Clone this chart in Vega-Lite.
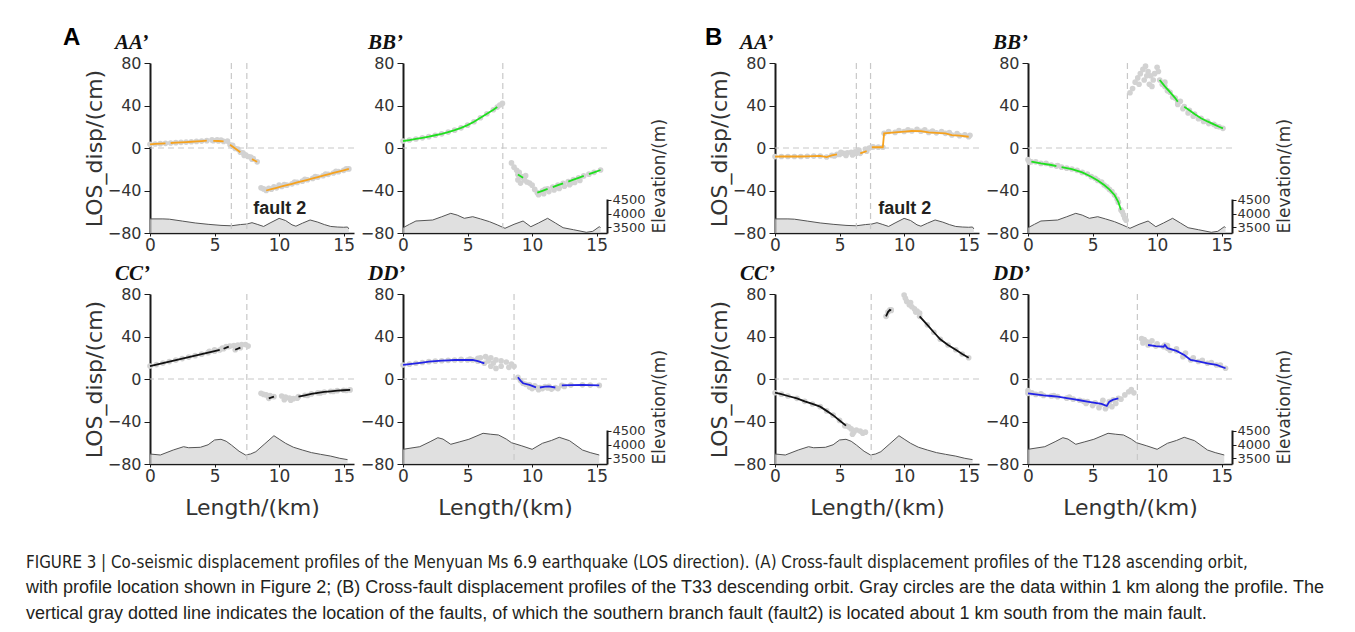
{
"$schema":"https://vega.github.io/schema/vega-lite/v6.json",
"autosize":{"type":"none"},
"padding":{"left":63,"top":63,"right":1292,"bottom":569},
"background":"#ffffff",
"title":{"text":"FIGURE 3 | Co-seismic displacement profiles of the Menyuan Ms 6.9 earthquake (LOS direction). (A) Cross-fault displacement profiles of the T128 ascending orbit,",
"subtitle":["with profile location shown in Figure 2; (B) Cross-fault displacement profiles of the T33 descending orbit. Gray circles are the data within 1 km along the profile. The","vertical gray dotted line indicates the location of the faults, of which the southern branch fault (fault2) is located about 1 km south from the main fault."],
"orient":"bottom","anchor":"start","frame":"group","dx":-37,"offset":37,
"font":"DejaVu Sans Condensed","fontSize":16.8,"fontStyle":"normal","fontWeight":"normal","color":"#231f20","baseline":"top",
"subtitleFont":"Liberation Sans","subtitleFontSize":18,"subtitleColor":"#231f20","subtitleLineHeight":26,"subtitlePadding":7},
"datasets":{
"one":[{"a":1}],
"faults":[{"k":"aAA","x":6.3},{"k":"aAA","x":7.5},{"k":"aBB","x":7.73},{"k":"aCC","x":7.5},{"k":"aDD","x":8.6},{"k":"bAA","x":6.3},{"k":"bAA","x":7.4},{"k":"bBB","x":7.7},{"k":"bCC","x":7.45},{"k":"bDD","x":8.47}],
"eAA":[{"x":0,"e":3800},{"x":1.0,"e":3800},{"x":1.5,"e":3790},{"x":2.5,"e":3720},{"x":3.5,"e":3650},{"x":4.5,"e":3600},{"x":5.5,"e":3560},{"x":6.3,"e":3545},{"x":7.0,"e":3590},{"x":7.5,"e":3610},{"x":7.9,"e":3660},{"x":8.3,"e":3600},{"x":8.8,"e":3520},{"x":9.3,"e":3650},{"x":10.0,"e":3820},{"x":10.5,"e":3740},{"x":11.0,"e":3580},{"x":11.3,"e":3530},{"x":11.8,"e":3640},{"x":12.4,"e":3760},{"x":13.0,"e":3680},{"x":13.5,"e":3590},{"x":14.0,"e":3520},{"x":14.5,"e":3500},{"x":15.0,"e":3490},{"x":15.3,"e":3500},{"x":15.4,"e":3430}],
"eBB":[{"x":0,"e":3474},{"x":0.5,"e":3600},{"x":1.0,"e":3722},{"x":2.3,"e":3759},{"x":3.0,"e":3880},{"x":3.7,"e":4007},{"x":4.2,"e":3940},{"x":4.75,"e":3822},{"x":5.4,"e":3882},{"x":6.0,"e":3800},{"x":6.7,"e":3697},{"x":7.3,"e":3580},{"x":7.9,"e":3452},{"x":8.6,"e":3600},{"x":9.3,"e":3722},{"x":9.9,"e":3511},{"x":10.5,"e":3650},{"x":11.2,"e":3822},{"x":11.8,"e":3650},{"x":12.4,"e":3474},{"x":13.2,"e":3400},{"x":14.2,"e":3304},{"x":14.7,"e":3340},{"x":15.2,"e":3511},{"x":15.3,"e":3480}],
"eCC":[{"x":0,"e":3648},{"x":0.8,"e":3611},{"x":1.8,"e":3796},{"x":2.6,"e":3919},{"x":3.0,"e":3880},{"x":3.9,"e":3896},{"x":4.5,"e":3990},{"x":5.0,"e":4167},{"x":5.5,"e":4193},{"x":5.9,"e":4120},{"x":6.3,"e":3982},{"x":6.9,"e":3750},{"x":7.4,"e":3611},{"x":7.8,"e":3650},{"x":8.2,"e":3734},{"x":8.9,"e":4030},{"x":9.6,"e":4326},{"x":10.0,"e":4200},{"x":10.5,"e":4045},{"x":11.1,"e":3900},{"x":11.8,"e":3796},{"x":12.5,"e":3700},{"x":13.2,"e":3637},{"x":14.0,"e":3570},{"x":14.7,"e":3489},{"x":15.3,"e":3440}],
"eDD":[{"x":0,"e":3822},{"x":1.3,"e":3919},{"x":2.1,"e":4104},{"x":2.7,"e":4252},{"x":3.1,"e":4200},{"x":3.7,"e":4008},{"x":4.4,"e":4100},{"x":5.1,"e":4193},{"x":6.2,"e":4415},{"x":6.8,"e":4380},{"x":7.4,"e":4352},{"x":8.0,"e":4200},{"x":8.4,"e":4067},{"x":9.2,"e":3950},{"x":10.0,"e":3822},{"x":10.8,"e":4045},{"x":11.5,"e":4150},{"x":12.1,"e":4267},{"x":12.9,"e":4141},{"x":13.9,"e":3796},{"x":14.5,"e":3700},{"x":15.2,"e":3611}],
"aAA":[{"x":0,"y":3.5,"s":1},{"x":0.4,"y":3.8,"s":1},{"x":0.8,"y":4.1,"s":1},{"x":1.2,"y":4.4,"s":1},{"x":1.6,"y":4.7,"s":2},{"x":2.0,"y":5.0,"s":2},{"x":2.4,"y":5.3,"s":2},{"x":2.8,"y":5.6,"s":2},{"x":3.2,"y":5.9,"s":2},{"x":3.6,"y":6.2,"s":2},{"x":4.0,"y":6.5,"s":2},{"x":4.4,"y":6.9,"s":2},{"x":4.9,"y":6.8,"s":3},{"x":5.3,"y":6.6,"s":3},{"x":5.7,"y":6.2,"s":3},{"x":6.2,"y":3.0,"s":4},{"x":6.6,"y":-0.5,"s":4},{"x":7.0,"y":-4,"s":4},{"x":7.9,"y":-10.5,"s":5},{"x":8.3,"y":-13,"s":5},{"x":4.8,"y":7.6,"s":0},{"x":5.2,"y":7.8,"s":0},{"x":5.5,"y":7.5,"s":0},{"x":6.0,"y":6.5,"s":0},{"x":6.4,"y":2.5,"s":0},{"x":6.8,"y":-1,"s":0},{"x":7.2,"y":-4.5,"s":0},{"x":7.3,"y":-7,"s":0},{"x":7.4,"y":-6.5,"s":0},{"x":7.6,"y":-8,"s":0},{"x":7.8,"y":-8.5,"s":0},{"x":8.0,"y":-10,"s":0},{"x":8.6,"y":-37.5,"s":0},{"x":8.8,"y":-38.5,"s":0},{"x":9.2,"y":-38,"s":0},{"x":9.6,"y":-36.5,"s":0},{"x":10.0,"y":-35,"s":0},{"x":9.0,"y":-40,"s":6},{"x":9.4,"y":-38.8,"s":6},{"x":9.8,"y":-37.5,"s":6},{"x":10.2,"y":-36.2,"s":6},{"x":10.6,"y":-35,"s":6},{"x":11.0,"y":-33.7,"s":6},{"x":11.4,"y":-32.4,"s":6},{"x":11.8,"y":-31.2,"s":6},{"x":12.2,"y":-29.9,"s":6},{"x":12.6,"y":-28.6,"s":6},{"x":13.0,"y":-27.4,"s":6},{"x":13.4,"y":-26.1,"s":6},{"x":13.8,"y":-24.8,"s":6},{"x":14.2,"y":-23.5,"s":6},{"x":14.6,"y":-22.3,"s":6},{"x":15.0,"y":-21,"s":6},{"x":15.4,"y":-19.7,"s":6},{"x":10.4,"y":-34.5,"s":0},{"x":11.2,"y":-32,"s":0},{"x":12.0,"y":-29.5,"s":0},{"x":12.8,"y":-27,"s":0},{"x":13.6,"y":-24.5,"s":0},{"x":14.4,"y":-22,"s":0},{"x":15.2,"y":-19.5,"s":0}],
"aBB":[{"x":0,"y":6.6,"s":1},{"x":0.5,"y":7.5,"s":1},{"x":1.0,"y":8.5,"s":1},{"x":1.5,"y":9.6,"s":1},{"x":2.0,"y":10.7,"s":1},{"x":2.5,"y":12,"s":1},{"x":3.0,"y":13.3,"s":1},{"x":3.5,"y":15,"s":1},{"x":4.0,"y":16.8,"s":1},{"x":4.5,"y":19,"s":1},{"x":5.0,"y":21.5,"s":1},{"x":5.5,"y":24.7,"s":1},{"x":6.0,"y":28.5,"s":1},{"x":6.5,"y":32.2,"s":1},{"x":7.0,"y":36,"s":1},{"x":7.3,"y":38.5,"s":1},{"x":7.5,"y":40.5,"s":0},{"x":7.7,"y":42,"s":0},{"x":8.4,"y":-14,"s":0},{"x":8.6,"y":-18,"s":0},{"x":8.8,"y":-21,"s":0},{"x":9.0,"y":-23,"s":0},{"x":9.2,"y":-27,"s":0},{"x":9.4,"y":-30,"s":0},{"x":9.6,"y":-32,"s":0},{"x":9.8,"y":-33,"s":0},{"x":10.0,"y":-35,"s":0},{"x":10.2,"y":-39,"s":0},{"x":9.1,"y":-33,"s":0},{"x":8.9,"y":-30,"s":0},{"x":9.5,"y":-26,"s":0},{"x":8.9,"y":-25,"s":2},{"x":9.3,"y":-28,"s":2},{"x":10.4,"y":-42,"s":3},{"x":10.8,"y":-40.3,"s":3},{"x":11.2,"y":-38.5,"s":3},{"x":11.6,"y":-36.8,"s":4},{"x":12.0,"y":-35,"s":4},{"x":12.4,"y":-33.3,"s":4},{"x":12.8,"y":-31.6,"s":5},{"x":13.2,"y":-29.8,"s":5},{"x":13.6,"y":-28.1,"s":5},{"x":14.0,"y":-26.3,"s":5},{"x":14.4,"y":-24.6,"s":6},{"x":14.8,"y":-22.9,"s":6},{"x":15.3,"y":-20.7,"s":6},{"x":10.5,"y":-44,"s":0},{"x":10.9,"y":-43,"s":0},{"x":11.3,"y":-41,"s":0},{"x":11.7,"y":-39.5,"s":0},{"x":12.1,"y":-38,"s":0},{"x":12.5,"y":-36,"s":0},{"x":12.9,"y":-34.5,"s":0},{"x":13.3,"y":-32.5,"s":0},{"x":13.7,"y":-30.5,"s":0},{"x":11.0,"y":-39,"s":0},{"x":12.0,"y":-37,"s":0},{"x":13.0,"y":-33,"s":0}],
"aCC":[{"x":0,"y":12.2,"s":1},{"x":0.5,"y":13.6,"s":1},{"x":1.0,"y":15,"s":1},{"x":1.5,"y":16.4,"s":1},{"x":2.0,"y":17.8,"s":1},{"x":2.5,"y":19.2,"s":1},{"x":3.0,"y":20.6,"s":1},{"x":3.5,"y":22,"s":1},{"x":4.0,"y":23.4,"s":1},{"x":4.5,"y":24.8,"s":1},{"x":5.0,"y":26.2,"s":1},{"x":5.4,"y":27.3,"s":1},{"x":4.6,"y":26,"s":0},{"x":5.0,"y":27.5,"s":0},{"x":5.6,"y":29,"s":0},{"x":5.9,"y":30.5,"s":0},{"x":6.2,"y":31,"s":0},{"x":6.5,"y":31.5,"s":0},{"x":6.8,"y":32,"s":0},{"x":7.1,"y":32.5,"s":0},{"x":7.4,"y":32.5,"s":0},{"x":7.6,"y":31,"s":0},{"x":5.7,"y":28.5,"s":2},{"x":6.1,"y":30.5,"s":2},{"x":6.6,"y":27.5,"s":3},{"x":7.0,"y":29.5,"s":3},{"x":8.6,"y":-13.5,"s":0},{"x":8.8,"y":-14.5,"s":0},{"x":9.0,"y":-15,"s":0},{"x":9.3,"y":-15.5,"s":0},{"x":10.2,"y":-16,"s":0},{"x":10.5,"y":-17,"s":0},{"x":10.8,"y":-18,"s":0},{"x":11.1,"y":-18.5,"s":0},{"x":11.4,"y":-18,"s":0},{"x":10.4,"y":-19.5,"s":0},{"x":10.9,"y":-20,"s":0},{"x":9.2,"y":-18.2,"s":4},{"x":9.6,"y":-16.6,"s":4},{"x":11.5,"y":-16.6,"s":5},{"x":12.0,"y":-15.3,"s":5},{"x":12.5,"y":-14,"s":5},{"x":13.0,"y":-13,"s":5},{"x":13.5,"y":-12.2,"s":5},{"x":14.0,"y":-11.6,"s":5},{"x":14.5,"y":-11,"s":5},{"x":15.0,"y":-10.6,"s":5},{"x":15.5,"y":-10.3,"s":5},{"x":12.2,"y":-15.5,"s":0},{"x":13.2,"y":-13.2,"s":0},{"x":14.2,"y":-11.8,"s":0},{"x":15.2,"y":-10.8,"s":0}],
"aDD":[{"x":0,"y":13.2,"s":1},{"x":0.5,"y":14,"s":1},{"x":1.0,"y":14.8,"s":1},{"x":1.5,"y":15.5,"s":1},{"x":2.0,"y":16.3,"s":1},{"x":2.5,"y":16.8,"s":1},{"x":3.0,"y":17.2,"s":1},{"x":3.5,"y":17.6,"s":1},{"x":4.0,"y":17.9,"s":1},{"x":4.5,"y":17.9,"s":1},{"x":5.0,"y":17.9,"s":1},{"x":5.4,"y":17.9,"s":1},{"x":5.8,"y":16.8,"s":1},{"x":6.3,"y":14.8,"s":1},{"x":5.8,"y":19.5,"s":0},{"x":6.0,"y":20,"s":0},{"x":6.4,"y":21,"s":0},{"x":6.8,"y":20,"s":0},{"x":7.2,"y":18,"s":0},{"x":7.6,"y":17,"s":0},{"x":8.0,"y":16,"s":0},{"x":8.4,"y":14,"s":0},{"x":8.6,"y":12,"s":0},{"x":6.8,"y":12,"s":0},{"x":7.2,"y":10,"s":0},{"x":7.6,"y":12,"s":0},{"x":7.0,"y":15,"s":0},{"x":8.2,"y":11,"s":0},{"x":6.6,"y":17,"s":0},{"x":4.5,"y":18.5,"s":0},{"x":5.2,"y":18.8,"s":0},{"x":8.9,"y":1.6,"s":2},{"x":9.1,"y":-1.5,"s":2},{"x":9.3,"y":-4,"s":2},{"x":9.8,"y":-5.6,"s":2},{"x":10.3,"y":-7.8,"s":2},{"x":10.6,"y":-8,"s":3},{"x":11.0,"y":-7.2,"s":3},{"x":11.3,"y":-7,"s":3},{"x":11.8,"y":-8,"s":3},{"x":12.3,"y":-6,"s":4},{"x":13.0,"y":-5.7,"s":4},{"x":13.9,"y":-5.5,"s":4},{"x":14.5,"y":-5.7,"s":4},{"x":15.2,"y":-6,"s":4},{"x":10.0,"y":-9,"s":0},{"x":10.5,"y":-10,"s":0},{"x":10.8,"y":-9,"s":0},{"x":11.2,"y":-8.5,"s":0},{"x":11.5,"y":-9.5,"s":0},{"x":12.0,"y":-9,"s":0},{"x":10.2,"y":-6.5,"s":0},{"x":9.5,"y":-5,"s":0},{"x":12.5,"y":-7,"s":0},{"x":9.8,"y":-7.5,"s":0}],
"bAA":[{"x":0,"y":-8.1,"s":1},{"x":0.5,"y":-8,"s":1},{"x":1.0,"y":-8,"s":1},{"x":1.5,"y":-8,"s":1},{"x":2.0,"y":-8,"s":1},{"x":2.5,"y":-7.8,"s":1},{"x":3.0,"y":-7.6,"s":1},{"x":3.5,"y":-7.5,"s":1},{"x":4.0,"y":-8.5,"s":1},{"x":4.4,"y":-7,"s":1},{"x":4.8,"y":-6,"s":1},{"x":5.0,"y":-6,"s":0},{"x":5.3,"y":-5,"s":0},{"x":5.6,"y":-4.5,"s":0},{"x":5.9,"y":-4,"s":0},{"x":6.2,"y":-3.5,"s":0},{"x":6.5,"y":-2,"s":0},{"x":7.0,"y":-1,"s":0},{"x":7.3,"y":0,"s":0},{"x":7.6,"y":1,"s":0},{"x":5.5,"y":-7,"s":0},{"x":6.0,"y":-6.5,"s":0},{"x":6.3,"y":-5,"s":0},{"x":4.6,"y":-7.5,"s":0},{"x":5.1,"y":-4,"s":0},{"x":6.6,"y":-5,"s":2},{"x":7.1,"y":-3,"s":2},{"x":7.5,"y":0.7,"s":3},{"x":8.0,"y":0.8,"s":3},{"x":8.35,"y":0.7,"s":3},{"x":8.45,"y":13.8,"s":3},{"x":9.3,"y":14.7,"s":3},{"x":10.0,"y":15.5,"s":3},{"x":10.6,"y":16,"s":3},{"x":11.3,"y":15.8,"s":3},{"x":11.9,"y":14.7,"s":3},{"x":12.5,"y":14.3,"s":3},{"x":13.2,"y":13.8,"s":3},{"x":13.7,"y":12.2,"s":3},{"x":14.3,"y":11.6,"s":3},{"x":15.0,"y":10.6,"s":3},{"x":8.8,"y":15.5,"s":0},{"x":9.6,"y":16.5,"s":0},{"x":10.3,"y":17,"s":0},{"x":11.0,"y":17.5,"s":0},{"x":11.6,"y":17,"s":0},{"x":12.2,"y":16,"s":0},{"x":12.9,"y":15.5,"s":0},{"x":13.5,"y":14.5,"s":0},{"x":14.1,"y":13.5,"s":0},{"x":14.7,"y":12.5,"s":0},{"x":15.1,"y":12,"s":0}],
"bBB":[{"x":0.26,"y":-12.9,"s":1},{"x":1.0,"y":-14.5,"s":1},{"x":1.8,"y":-16,"s":1},{"x":2.2,"y":-17,"s":1},{"x":2.6,"y":-18,"s":2},{"x":3.4,"y":-19.8,"s":2},{"x":4.2,"y":-23,"s":2},{"x":4.9,"y":-27,"s":2},{"x":5.4,"y":-30.5,"s":2},{"x":5.9,"y":-34.8,"s":2},{"x":6.3,"y":-39,"s":2},{"x":6.7,"y":-44.2,"s":2},{"x":7.0,"y":-51,"s":2},{"x":7.2,"y":-58.3,"s":2},{"x":0,"y":-11,"s":0},{"x":0.1,"y":-13.5,"s":0},{"x":0.6,"y":-13,"s":0},{"x":1.4,"y":-14.5,"s":0},{"x":2.3,"y":-16.5,"s":0},{"x":3.0,"y":-19,"s":0},{"x":3.8,"y":-21,"s":0},{"x":4.6,"y":-24.5,"s":0},{"x":5.2,"y":-28.5,"s":0},{"x":5.7,"y":-32,"s":0},{"x":6.1,"y":-36.5,"s":0},{"x":6.5,"y":-41,"s":0},{"x":6.9,"y":-48,"s":0},{"x":7.3,"y":-60,"s":0},{"x":7.4,"y":-63,"s":0},{"x":7.5,"y":-66,"s":0},{"x":7.6,"y":-68,"s":0},{"x":7.9,"y":52,"s":0},{"x":8.1,"y":56,"s":0},{"x":8.3,"y":62,"s":0},{"x":8.5,"y":66,"s":0},{"x":8.7,"y":70,"s":0},{"x":8.9,"y":74,"s":0},{"x":9.1,"y":77,"s":0},{"x":9.3,"y":72,"s":0},{"x":9.5,"y":68,"s":0},{"x":9.7,"y":64,"s":0},{"x":9.4,"y":60,"s":0},{"x":9.0,"y":64,"s":0},{"x":8.6,"y":60,"s":0},{"x":9.8,"y":70,"s":0},{"x":10.0,"y":76,"s":0},{"x":10.1,"y":72,"s":0},{"x":9.6,"y":58,"s":0},{"x":9.2,"y":68,"s":0},{"x":10.2,"y":64,"s":3},{"x":10.6,"y":58,"s":3},{"x":11.0,"y":52.5,"s":3},{"x":11.4,"y":47,"s":3},{"x":11.6,"y":43.6,"s":3},{"x":12.1,"y":38.9,"s":4},{"x":12.5,"y":35.5,"s":4},{"x":12.9,"y":32,"s":4},{"x":13.4,"y":28,"s":4},{"x":13.9,"y":25,"s":4},{"x":14.4,"y":22.2,"s":4},{"x":14.8,"y":20,"s":4},{"x":15.1,"y":18.5,"s":4},{"x":10.4,"y":60,"s":0},{"x":10.8,"y":54,"s":0},{"x":11.2,"y":48,"s":0},{"x":11.6,"y":41,"s":0},{"x":12.0,"y":37,"s":0},{"x":12.4,"y":33,"s":0},{"x":12.8,"y":30,"s":0},{"x":13.2,"y":27.5,"s":0},{"x":13.6,"y":25,"s":0},{"x":14.0,"y":23,"s":0},{"x":14.6,"y":20.5,"s":0},{"x":11.8,"y":44,"s":0},{"x":10.6,"y":62,"s":0}],
"bCC":[{"x":0,"y":-12.9,"s":1},{"x":0.5,"y":-14.3,"s":1},{"x":1.0,"y":-16,"s":1},{"x":1.7,"y":-18.2,"s":1},{"x":2.3,"y":-21,"s":1},{"x":2.9,"y":-23.5,"s":1},{"x":3.5,"y":-26,"s":1},{"x":4.0,"y":-30,"s":1},{"x":4.5,"y":-34,"s":1},{"x":5.0,"y":-39,"s":1},{"x":5.5,"y":-43.9,"s":1},{"x":5.7,"y":-45,"s":0},{"x":5.9,"y":-47,"s":0},{"x":6.1,"y":-50,"s":0},{"x":6.3,"y":-48,"s":0},{"x":6.6,"y":-49,"s":0},{"x":6.8,"y":-51,"s":0},{"x":6.0,"y":-52,"s":0},{"x":7.0,"y":-50,"s":0},{"x":5.4,"y":-44,"s":0},{"x":8.6,"y":59,"s":2},{"x":8.75,"y":63,"s":2},{"x":8.9,"y":65,"s":2},{"x":9.0,"y":64.5,"s":2},{"x":10.0,"y":79,"s":0},{"x":10.1,"y":76,"s":0},{"x":10.2,"y":73,"s":0},{"x":10.4,"y":70,"s":0},{"x":10.6,"y":68,"s":0},{"x":10.8,"y":66,"s":0},{"x":11.0,"y":64,"s":0},{"x":11.2,"y":62,"s":0},{"x":10.5,"y":72,"s":0},{"x":10.9,"y":63,"s":0},{"x":9.0,"y":65,"s":0},{"x":11.2,"y":59,"s":3},{"x":11.8,"y":51,"s":3},{"x":12.3,"y":44,"s":3},{"x":12.8,"y":37.4,"s":3},{"x":13.4,"y":32,"s":3},{"x":14.0,"y":27.5,"s":3},{"x":14.5,"y":23.5,"s":3},{"x":15.0,"y":20,"s":3}],
"bDD":[{"x":0,"y":-13.5,"s":1},{"x":0.6,"y":-14.5,"s":1},{"x":1.2,"y":-15.5,"s":1},{"x":1.8,"y":-16,"s":1},{"x":2.3,"y":-16.6,"s":1},{"x":3.0,"y":-18,"s":1},{"x":3.5,"y":-19,"s":1},{"x":4.0,"y":-20,"s":1},{"x":4.6,"y":-21.3,"s":1},{"x":5.2,"y":-22.5,"s":1},{"x":5.7,"y":-23.5,"s":1},{"x":6.1,"y":-25.4,"s":1},{"x":6.3,"y":-21.3,"s":1},{"x":6.6,"y":-19.5,"s":1},{"x":7.0,"y":-18.2,"s":1},{"x":0,"y":-11,"s":0},{"x":0.3,"y":-13,"s":0},{"x":1.0,"y":-14,"s":0},{"x":2.0,"y":-15.5,"s":0},{"x":3.2,"y":-17,"s":0},{"x":4.3,"y":-21,"s":0},{"x":5.0,"y":-25,"s":0},{"x":5.5,"y":-27,"s":0},{"x":6.0,"y":-28,"s":0},{"x":6.5,"y":-26,"s":0},{"x":6.8,"y":-23,"s":0},{"x":7.2,"y":-19,"s":0},{"x":7.5,"y":-15,"s":0},{"x":7.8,"y":-12,"s":0},{"x":8.0,"y":-10,"s":0},{"x":8.2,"y":-13,"s":0},{"x":5.8,"y":-20,"s":0},{"x":4.5,"y":-23,"s":0},{"x":8.8,"y":38,"s":0},{"x":9.0,"y":37,"s":0},{"x":9.2,"y":35,"s":0},{"x":9.4,"y":34,"s":0},{"x":8.9,"y":34,"s":0},{"x":9.6,"y":36,"s":0},{"x":9.3,"y":32,"s":2},{"x":9.9,"y":31,"s":2},{"x":10.5,"y":30.4,"s":2},{"x":10.6,"y":32,"s":2},{"x":10.8,"y":29,"s":2},{"x":11.5,"y":26.5,"s":2},{"x":12.1,"y":22.6,"s":2},{"x":12.6,"y":17.9,"s":2},{"x":13.2,"y":16.5,"s":2},{"x":13.9,"y":14.8,"s":2},{"x":14.6,"y":13.2,"s":2},{"x":15.3,"y":10.1,"s":2},{"x":10.0,"y":33,"s":0},{"x":10.8,"y":31.5,"s":0},{"x":11.5,"y":28.5,"s":0},{"x":12.2,"y":24.5,"s":0},{"x":12.8,"y":20,"s":0},{"x":13.5,"y":17.5,"s":0},{"x":14.2,"y":15.5,"s":0},{"x":14.9,"y":13,"s":0},{"x":11.0,"y":27,"s":0},{"x":12.0,"y":21,"s":0}]
},
"config":{
"view":{"stroke":null},
"font":"DejaVu Sans",
"axis":{"grid":false,"domainColor":"#1a1a1a","tickColor":"#1a1a1a","labelColor":"#333333","titleColor":"#333333","labelFont":"DejaVu Sans","titleFont":"DejaVu Sans","titleFontWeight":"normal","labelOverlap":false,"labelFlush":false},
"axisBottom":{"labelFontSize":17,"domainWidth":1.5,"tickSize":3,"labelPadding":1,"titleFontSize":22,"titlePadding":13},
"axisLeft":{"labelFontSize":16,"domainWidth":2,"labelPadding":3,"titleFontSize":22,"titlePadding":1},
"axisRight":{"labelFontSize":13,"domainWidth":2,"tickSize":4,"labelPadding":1,"titleFontSize":17},
"title":{"font":"Liberation Serif","fontStyle":"italic","fontWeight":"bold","fontSize":21,"color":"#111111","anchor":"start","frame":"group","baseline":"alphabetic","offset":2}
},
"columns":6,
"spacing":{"row":61,"column":49},
"bounds":"flush",
"align":"each",
"concat":[
{"width":38,"height":170,"title":{"text":"A","font":"Liberation Sans","fontStyle":"normal","fontWeight":"bold","fontSize":24,"color":"#000000","offset":13},"data":{"name":"one"},"mark":{"type":"text","text":""}},
{"width":204,"height":170,"title":{"text":"AA’","dx":-35},
"layer":[
{"data":{"name":"eAA"},"mark":{"type":"area","color":"#d3d3d3","line":{"color":"#555555","strokeWidth":1}},
"encoding":{"x":{"field":"x","type":"quantitative","scale":{"domain":[0,15.8],"nice":false},"axis":{"values":[0,2.5,5,7.5,10,12.5,15],"labelExpr":"datum.value % 5 === 0 ? '' + datum.value : ''","title":null}},
"y":{"field":"e","type":"quantitative","scale":{"domain":[3278,4537],"range":[170,136],"nice":false,"zero":false},"axis":null},"y2":{"datum":3278}}},
{"layer":[
{"data":{"name":"faults"},"transform":[{"filter":"datum.k === 'aAA'"}],"mark":{"type":"rule","color":"#c8c8c8","strokeDash":[6,4],"strokeWidth":1.2},"encoding":{"x":{"field":"x","type":"quantitative"}}},
{"data":{"name":"one"},"mark":{"type":"rule","color":"#c8c8c8","strokeDash":[6,4],"strokeWidth":1.2},"encoding":{"y":{"datum":0}}},
{"data":{"name":"aAA"},"mark":{"type":"circle","color":"#d2d2d2","size":32,"opacity":1},"encoding":{"x":{"field":"x","type":"quantitative"},"y":{"field":"y","type":"quantitative","scale":{"domain":[-80,80],"nice":false},"axis":{"orient":"left","values":[-80,-70,-60,-50,-40,-30,-20,-10,0,10,20,30,40,50,60,70,80],"labelExpr":"datum.value % 40 === 0 ? format(datum.value, 'd') : ''","tickSize":{"condition":{"test":"datum.value % 40 === 0","value":6},"value":3},"title":"LOS_disp/(cm)"}}}},
{"data":{"name":"aAA"},"transform":[{"filter":"datum.s > 0"}],"mark":{"type":"line","color":"#f6a21e","strokeWidth":1.8},"encoding":{"x":{"field":"x","type":"quantitative"},"y":{"field":"y","type":"quantitative"},"detail":{"field":"s","type":"nominal"}}},
{"data":{"name":"one"},"mark":{"type":"text","text":"fault 2","font":"Liberation Sans","fontWeight":"bold","fontSize":18,"color":"#231f20"},"encoding":{"x":{"datum":10.05},"y":{"datum":-57}}}
]}],
"resolve":{"scale":{"y":"independent"}}},
{"width":204,"height":170,"title":{"text":"BB’","dx":-35},
"layer":[
{"data":{"name":"eBB"},"mark":{"type":"area","color":"#d3d3d3","line":{"color":"#555555","strokeWidth":1}},
"encoding":{"x":{"field":"x","type":"quantitative","scale":{"domain":[0,15.8],"nice":false},"axis":{"values":[0,2.5,5,7.5,10,12.5,15],"labelExpr":"datum.value % 5 === 0 ? '' + datum.value : ''","title":null}},
"y":{"field":"e","type":"quantitative","scale":{"domain":[3278,4537],"range":[170,136],"nice":false,"zero":false},"axis":{"orient":"right","values":[3500,4000,4500],"format":"d","title":"Elevation/(m)","titleAngle":270,"titleAnchor":"start","titleAlign":"left","titleBaseline":"top","titlePadding":6}},"y2":{"datum":3278}}},
{"layer":[
{"data":{"name":"faults"},"transform":[{"filter":"datum.k === 'aBB'"}],"mark":{"type":"rule","color":"#c8c8c8","strokeDash":[6,4],"strokeWidth":1.2},"encoding":{"x":{"field":"x","type":"quantitative"}}},
{"data":{"name":"one"},"mark":{"type":"rule","color":"#c8c8c8","strokeDash":[6,4],"strokeWidth":1.2},"encoding":{"y":{"datum":0}}},
{"data":{"name":"aBB"},"mark":{"type":"circle","color":"#d2d2d2","size":32,"opacity":1},"encoding":{"x":{"field":"x","type":"quantitative"},"y":{"field":"y","type":"quantitative","scale":{"domain":[-80,80],"nice":false},"axis":{"orient":"left","values":[-80,-70,-60,-50,-40,-30,-20,-10,0,10,20,30,40,50,60,70,80],"labelExpr":"datum.value % 40 === 0 ? format(datum.value, 'd') : ''","tickSize":{"condition":{"test":"datum.value % 40 === 0","value":6},"value":3},"title":null}}}},
{"data":{"name":"aBB"},"transform":[{"filter":"datum.s > 0"}],"mark":{"type":"line","color":"#1fe01f","strokeWidth":1.8},"encoding":{"x":{"field":"x","type":"quantitative"},"y":{"field":"y","type":"quantitative"},"detail":{"field":"s","type":"nominal"}}}
]}],
"resolve":{"scale":{"y":"independent"}}},
{"width":70,"height":170,"title":{"text":"B","font":"Liberation Sans","fontStyle":"normal","fontWeight":"bold","fontSize":24,"color":"#000000","offset":13,"dx":49},"data":{"name":"one"},"mark":{"type":"text","text":""}},
{"width":204,"height":170,"title":{"text":"AA’","dx":-35},
"layer":[
{"data":{"name":"eAA"},"mark":{"type":"area","color":"#d3d3d3","line":{"color":"#555555","strokeWidth":1}},
"encoding":{"x":{"field":"x","type":"quantitative","scale":{"domain":[0,15.8],"nice":false},"axis":{"values":[0,2.5,5,7.5,10,12.5,15],"labelExpr":"datum.value % 5 === 0 ? '' + datum.value : ''","title":null}},
"y":{"field":"e","type":"quantitative","scale":{"domain":[3278,4537],"range":[170,136],"nice":false,"zero":false},"axis":null},"y2":{"datum":3278}}},
{"layer":[
{"data":{"name":"faults"},"transform":[{"filter":"datum.k === 'bAA'"}],"mark":{"type":"rule","color":"#c8c8c8","strokeDash":[6,4],"strokeWidth":1.2},"encoding":{"x":{"field":"x","type":"quantitative"}}},
{"data":{"name":"one"},"mark":{"type":"rule","color":"#c8c8c8","strokeDash":[6,4],"strokeWidth":1.2},"encoding":{"y":{"datum":0}}},
{"data":{"name":"bAA"},"mark":{"type":"circle","color":"#d2d2d2","size":32,"opacity":1},"encoding":{"x":{"field":"x","type":"quantitative"},"y":{"field":"y","type":"quantitative","scale":{"domain":[-80,80],"nice":false},"axis":{"orient":"left","values":[-80,-70,-60,-50,-40,-30,-20,-10,0,10,20,30,40,50,60,70,80],"labelExpr":"datum.value % 40 === 0 ? format(datum.value, 'd') : ''","tickSize":{"condition":{"test":"datum.value % 40 === 0","value":6},"value":3},"title":"LOS_disp/(cm)"}}}},
{"data":{"name":"bAA"},"transform":[{"filter":"datum.s > 0"}],"mark":{"type":"line","color":"#f6a21e","strokeWidth":1.8},"encoding":{"x":{"field":"x","type":"quantitative"},"y":{"field":"y","type":"quantitative"},"detail":{"field":"s","type":"nominal"}}},
{"data":{"name":"one"},"mark":{"type":"text","text":"fault 2","font":"Liberation Sans","fontWeight":"bold","fontSize":18,"color":"#231f20"},"encoding":{"x":{"datum":10.05},"y":{"datum":-57}}}
]}],
"resolve":{"scale":{"y":"independent"}}},
{"width":204,"height":170,"title":{"text":"BB’","dx":-35},
"layer":[
{"data":{"name":"eBB"},"mark":{"type":"area","color":"#d3d3d3","line":{"color":"#555555","strokeWidth":1}},
"encoding":{"x":{"field":"x","type":"quantitative","scale":{"domain":[0,15.8],"nice":false},"axis":{"values":[0,2.5,5,7.5,10,12.5,15],"labelExpr":"datum.value % 5 === 0 ? '' + datum.value : ''","title":null}},
"y":{"field":"e","type":"quantitative","scale":{"domain":[3278,4537],"range":[170,136],"nice":false,"zero":false},"axis":{"orient":"right","values":[3500,4000,4500],"format":"d","title":"Elevation/(m)","titleAngle":270,"titleAnchor":"start","titleAlign":"left","titleBaseline":"top","titlePadding":6}},"y2":{"datum":3278}}},
{"layer":[
{"data":{"name":"faults"},"transform":[{"filter":"datum.k === 'bBB'"}],"mark":{"type":"rule","color":"#c8c8c8","strokeDash":[6,4],"strokeWidth":1.2},"encoding":{"x":{"field":"x","type":"quantitative"}}},
{"data":{"name":"one"},"mark":{"type":"rule","color":"#c8c8c8","strokeDash":[6,4],"strokeWidth":1.2},"encoding":{"y":{"datum":0}}},
{"data":{"name":"bBB"},"mark":{"type":"circle","color":"#d2d2d2","size":32,"opacity":1},"encoding":{"x":{"field":"x","type":"quantitative"},"y":{"field":"y","type":"quantitative","scale":{"domain":[-80,80],"nice":false},"axis":{"orient":"left","values":[-80,-70,-60,-50,-40,-30,-20,-10,0,10,20,30,40,50,60,70,80],"labelExpr":"datum.value % 40 === 0 ? format(datum.value, 'd') : ''","tickSize":{"condition":{"test":"datum.value % 40 === 0","value":6},"value":3},"title":null}}}},
{"data":{"name":"bBB"},"transform":[{"filter":"datum.s > 0"}],"mark":{"type":"line","color":"#1fe01f","strokeWidth":1.8},"encoding":{"x":{"field":"x","type":"quantitative"},"y":{"field":"y","type":"quantitative"},"detail":{"field":"s","type":"nominal"}}}
]}],
"resolve":{"scale":{"y":"independent"}}},
{"width":38,"height":170,"data":{"name":"one"},"mark":{"type":"text","text":""}},
{"width":204,"height":170,"title":{"text":"CC’","dx":-35},
"layer":[
{"data":{"name":"eCC"},"mark":{"type":"area","color":"#d3d3d3","line":{"color":"#555555","strokeWidth":1}},
"encoding":{"x":{"field":"x","type":"quantitative","scale":{"domain":[0,15.8],"nice":false},"axis":{"values":[0,2.5,5,7.5,10,12.5,15],"labelExpr":"datum.value % 5 === 0 ? '' + datum.value : ''","title":"Length/(km)"}},
"y":{"field":"e","type":"quantitative","scale":{"domain":[3278,4537],"range":[170,136],"nice":false,"zero":false},"axis":null},"y2":{"datum":3278}}},
{"layer":[
{"data":{"name":"faults"},"transform":[{"filter":"datum.k === 'aCC'"}],"mark":{"type":"rule","color":"#c8c8c8","strokeDash":[6,4],"strokeWidth":1.2},"encoding":{"x":{"field":"x","type":"quantitative"}}},
{"data":{"name":"one"},"mark":{"type":"rule","color":"#c8c8c8","strokeDash":[6,4],"strokeWidth":1.2},"encoding":{"y":{"datum":0}}},
{"data":{"name":"aCC"},"mark":{"type":"circle","color":"#d2d2d2","size":32,"opacity":1},"encoding":{"x":{"field":"x","type":"quantitative"},"y":{"field":"y","type":"quantitative","scale":{"domain":[-80,80],"nice":false},"axis":{"orient":"left","values":[-80,-70,-60,-50,-40,-30,-20,-10,0,10,20,30,40,50,60,70,80],"labelExpr":"datum.value % 40 === 0 ? format(datum.value, 'd') : ''","tickSize":{"condition":{"test":"datum.value % 40 === 0","value":6},"value":3},"title":"LOS_disp/(cm)"}}}},
{"data":{"name":"aCC"},"transform":[{"filter":"datum.s > 0"}],"mark":{"type":"line","color":"#111111","strokeWidth":1.8},"encoding":{"x":{"field":"x","type":"quantitative"},"y":{"field":"y","type":"quantitative"},"detail":{"field":"s","type":"nominal"}}}
]}],
"resolve":{"scale":{"y":"independent"}}},
{"width":204,"height":170,"title":{"text":"DD’","dx":-35},
"layer":[
{"data":{"name":"eDD"},"mark":{"type":"area","color":"#d3d3d3","line":{"color":"#555555","strokeWidth":1}},
"encoding":{"x":{"field":"x","type":"quantitative","scale":{"domain":[0,15.8],"nice":false},"axis":{"values":[0,2.5,5,7.5,10,12.5,15],"labelExpr":"datum.value % 5 === 0 ? '' + datum.value : ''","title":"Length/(km)"}},
"y":{"field":"e","type":"quantitative","scale":{"domain":[3278,4537],"range":[170,136],"nice":false,"zero":false},"axis":{"orient":"right","values":[3500,4000,4500],"format":"d","title":"Elevation/(m)","titleAngle":270,"titleAnchor":"start","titleAlign":"left","titleBaseline":"top","titlePadding":6}},"y2":{"datum":3278}}},
{"layer":[
{"data":{"name":"faults"},"transform":[{"filter":"datum.k === 'aDD'"}],"mark":{"type":"rule","color":"#c8c8c8","strokeDash":[6,4],"strokeWidth":1.2},"encoding":{"x":{"field":"x","type":"quantitative"}}},
{"data":{"name":"one"},"mark":{"type":"rule","color":"#c8c8c8","strokeDash":[6,4],"strokeWidth":1.2},"encoding":{"y":{"datum":0}}},
{"data":{"name":"aDD"},"mark":{"type":"circle","color":"#d2d2d2","size":32,"opacity":1},"encoding":{"x":{"field":"x","type":"quantitative"},"y":{"field":"y","type":"quantitative","scale":{"domain":[-80,80],"nice":false},"axis":{"orient":"left","values":[-80,-70,-60,-50,-40,-30,-20,-10,0,10,20,30,40,50,60,70,80],"labelExpr":"datum.value % 40 === 0 ? format(datum.value, 'd') : ''","tickSize":{"condition":{"test":"datum.value % 40 === 0","value":6},"value":3},"title":null}}}},
{"data":{"name":"aDD"},"transform":[{"filter":"datum.s > 0"}],"mark":{"type":"line","color":"#2323e6","strokeWidth":1.8},"encoding":{"x":{"field":"x","type":"quantitative"},"y":{"field":"y","type":"quantitative"},"detail":{"field":"s","type":"nominal"}}}
]}],
"resolve":{"scale":{"y":"independent"}}},
{"width":70,"height":170,"data":{"name":"one"},"mark":{"type":"text","text":""}},
{"width":204,"height":170,"title":{"text":"CC’","dx":-35},
"layer":[
{"data":{"name":"eCC"},"mark":{"type":"area","color":"#d3d3d3","line":{"color":"#555555","strokeWidth":1}},
"encoding":{"x":{"field":"x","type":"quantitative","scale":{"domain":[0,15.8],"nice":false},"axis":{"values":[0,2.5,5,7.5,10,12.5,15],"labelExpr":"datum.value % 5 === 0 ? '' + datum.value : ''","title":"Length/(km)"}},
"y":{"field":"e","type":"quantitative","scale":{"domain":[3278,4537],"range":[170,136],"nice":false,"zero":false},"axis":null},"y2":{"datum":3278}}},
{"layer":[
{"data":{"name":"faults"},"transform":[{"filter":"datum.k === 'bCC'"}],"mark":{"type":"rule","color":"#c8c8c8","strokeDash":[6,4],"strokeWidth":1.2},"encoding":{"x":{"field":"x","type":"quantitative"}}},
{"data":{"name":"one"},"mark":{"type":"rule","color":"#c8c8c8","strokeDash":[6,4],"strokeWidth":1.2},"encoding":{"y":{"datum":0}}},
{"data":{"name":"bCC"},"mark":{"type":"circle","color":"#d2d2d2","size":32,"opacity":1},"encoding":{"x":{"field":"x","type":"quantitative"},"y":{"field":"y","type":"quantitative","scale":{"domain":[-80,80],"nice":false},"axis":{"orient":"left","values":[-80,-70,-60,-50,-40,-30,-20,-10,0,10,20,30,40,50,60,70,80],"labelExpr":"datum.value % 40 === 0 ? format(datum.value, 'd') : ''","tickSize":{"condition":{"test":"datum.value % 40 === 0","value":6},"value":3},"title":"LOS_disp/(cm)"}}}},
{"data":{"name":"bCC"},"transform":[{"filter":"datum.s > 0"}],"mark":{"type":"line","color":"#111111","strokeWidth":1.8},"encoding":{"x":{"field":"x","type":"quantitative"},"y":{"field":"y","type":"quantitative"},"detail":{"field":"s","type":"nominal"}}}
]}],
"resolve":{"scale":{"y":"independent"}}},
{"width":204,"height":170,"title":{"text":"DD’","dx":-35},
"layer":[
{"data":{"name":"eDD"},"mark":{"type":"area","color":"#d3d3d3","line":{"color":"#555555","strokeWidth":1}},
"encoding":{"x":{"field":"x","type":"quantitative","scale":{"domain":[0,15.8],"nice":false},"axis":{"values":[0,2.5,5,7.5,10,12.5,15],"labelExpr":"datum.value % 5 === 0 ? '' + datum.value : ''","title":"Length/(km)"}},
"y":{"field":"e","type":"quantitative","scale":{"domain":[3278,4537],"range":[170,136],"nice":false,"zero":false},"axis":{"orient":"right","values":[3500,4000,4500],"format":"d","title":"Elevation/(m)","titleAngle":270,"titleAnchor":"start","titleAlign":"left","titleBaseline":"top","titlePadding":6}},"y2":{"datum":3278}}},
{"layer":[
{"data":{"name":"faults"},"transform":[{"filter":"datum.k === 'bDD'"}],"mark":{"type":"rule","color":"#c8c8c8","strokeDash":[6,4],"strokeWidth":1.2},"encoding":{"x":{"field":"x","type":"quantitative"}}},
{"data":{"name":"one"},"mark":{"type":"rule","color":"#c8c8c8","strokeDash":[6,4],"strokeWidth":1.2},"encoding":{"y":{"datum":0}}},
{"data":{"name":"bDD"},"mark":{"type":"circle","color":"#d2d2d2","size":32,"opacity":1},"encoding":{"x":{"field":"x","type":"quantitative"},"y":{"field":"y","type":"quantitative","scale":{"domain":[-80,80],"nice":false},"axis":{"orient":"left","values":[-80,-70,-60,-50,-40,-30,-20,-10,0,10,20,30,40,50,60,70,80],"labelExpr":"datum.value % 40 === 0 ? format(datum.value, 'd') : ''","tickSize":{"condition":{"test":"datum.value % 40 === 0","value":6},"value":3},"title":null}}}},
{"data":{"name":"bDD"},"transform":[{"filter":"datum.s > 0"}],"mark":{"type":"line","color":"#2323e6","strokeWidth":1.8},"encoding":{"x":{"field":"x","type":"quantitative"},"y":{"field":"y","type":"quantitative"},"detail":{"field":"s","type":"nominal"}}}
]}],
"resolve":{"scale":{"y":"independent"}}}
]
}
